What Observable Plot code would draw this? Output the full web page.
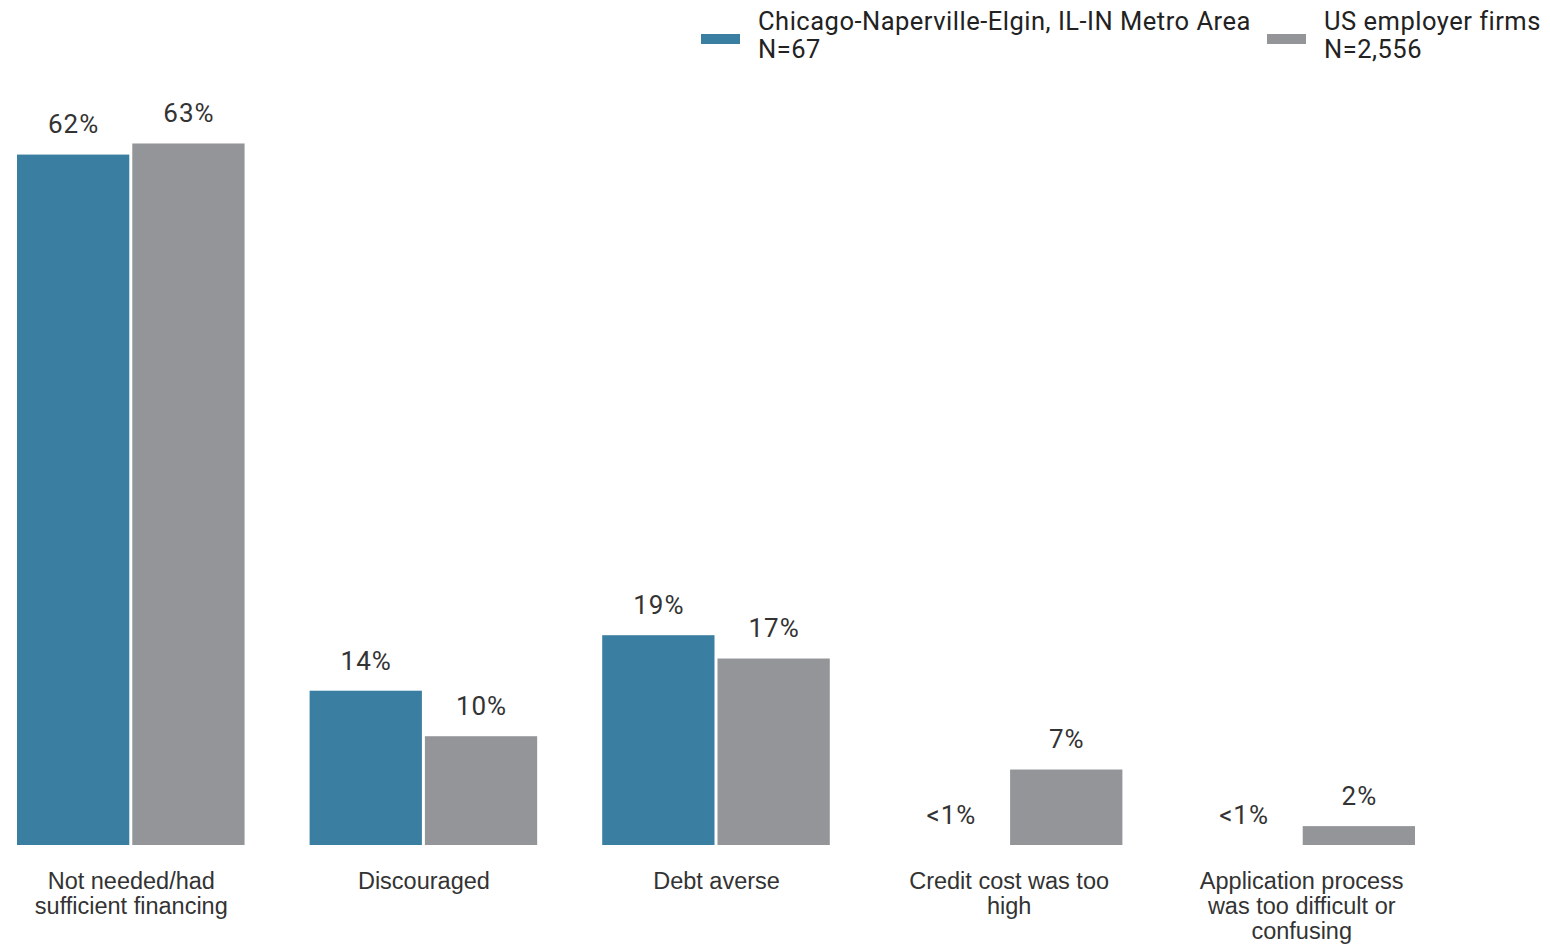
<!DOCTYPE html>
<html>
<head>
<meta charset="utf-8">
<script src="https://cdn.jsdelivr.net/npm/d3@7"></script>
<script src="https://cdn.jsdelivr.net/npm/@observablehq/plot@0.6"></script>
<style>
  html, body { margin: 0; padding: 0; background: #fff; }
  #legend { position: relative; width: 1550px; height: 70px; font-family: Roboto, sans-serif; font-size: 25.5px; letter-spacing: 0.5px; color: #222; }
  .sw { position: absolute; top: 34px; width: 39px; height: 10px; }
  .lt { position: absolute; top: 7px; line-height: 28px; white-space: nowrap; }
  #chart svg { display: block; }
  .vlabel text { letter-spacing: 1px; }
</style>
</head>
<body>
<div id="legend"></div>
<div id="chart"></div>
<script>
const categories = [
  "Not needed/had sufficient financing",
  "Discouraged",
  "Debt averse",
  "Credit cost was too high",
  "Application process was too difficult or confusing"
];
const tickLabels = [
  "Not needed/had\nsufficient financing",
  "Discouraged",
  "Debt averse",
  "Credit cost was too\nhigh",
  "Application process\nwas too difficult or\nconfusing"
];
const series = ["Chicago-Naperville-Elgin, IL-IN Metro Area", "US employer firms"];
const seriesN = ["N=67", "N=2,556"];
const colors = ["#3A7EA1", "#939598"];
const chicagoValues = [62.2, 13.9, 18.9, 0, 0];
const usValues = [63.2, 9.8, 16.8, 6.8, 1.7];
const chicagoLabels = ["62%", "14%", "19%", "<1%", "<1%"];
const usLabels = ["63%", "10%", "17%", "7%", "2%"];

const data = [];
categories.forEach((c, i) => {
  data.push({category: c, series: series[0], value: chicagoValues[i], label: chicagoLabels[i]});
  data.push({category: c, series: series[1], value: usValues[i], label: usLabels[i]});
});
const ticks = categories.map((c, i) => ({category: c, text: tickLabels[i]}));

// legend
const legend = document.getElementById("legend");
const legendPos = [{sw: 701, tx: 758}, {sw: 1267, tx: 1324}];
series.forEach((s, i) => {
  const sw = document.createElement("div");
  sw.className = "sw";
  sw.style.left = legendPos[i].sw + "px";
  sw.style.background = colors[i];
  legend.appendChild(sw);
  const t = document.createElement("div");
  t.className = "lt";
  t.style.left = legendPos[i].tx + "px";
  t.innerHTML = s + "<br>" + seriesN[i];
  legend.appendChild(t);
});

const chart = Plot.plot({
  width: 1550,
  height: 874,
  marginLeft: 15.5,
  marginRight: 133.5,
  marginTop: 53.5,
  marginBottom: 99,
  fx: {domain: categories, paddingInner: 0.212, paddingOuter: 0, round: false, axis: null, label: null},
  x: {domain: series, padding: 0, round: false, axis: null},
  y: {domain: [0, 65], axis: null},
  color: {domain: series, range: colors},
  marks: [
    Plot.barY(data, {fx: "category", x: "series", y: "value", fill: "series", insetLeft: 1.5, insetRight: 1.5}),
    Plot.text(data, {fx: "category", x: "series", y: "value", text: "label", dy: -30, lineAnchor: "middle",
      fontSize: 26, fontFamily: "Roboto, sans-serif", fill: "#333", className: "vlabel"}),
    Plot.text(ticks, {fx: "category", frameAnchor: "bottom", text: "text", lineAnchor: "top", dy: 25,
      fontSize: 23.5, lineHeight: 1.08, fontFamily: "'Liberation Sans', Arial, sans-serif", fill: "#333"})
  ]
});
document.getElementById("chart").appendChild(chart);
</script>
</body>
</html>
